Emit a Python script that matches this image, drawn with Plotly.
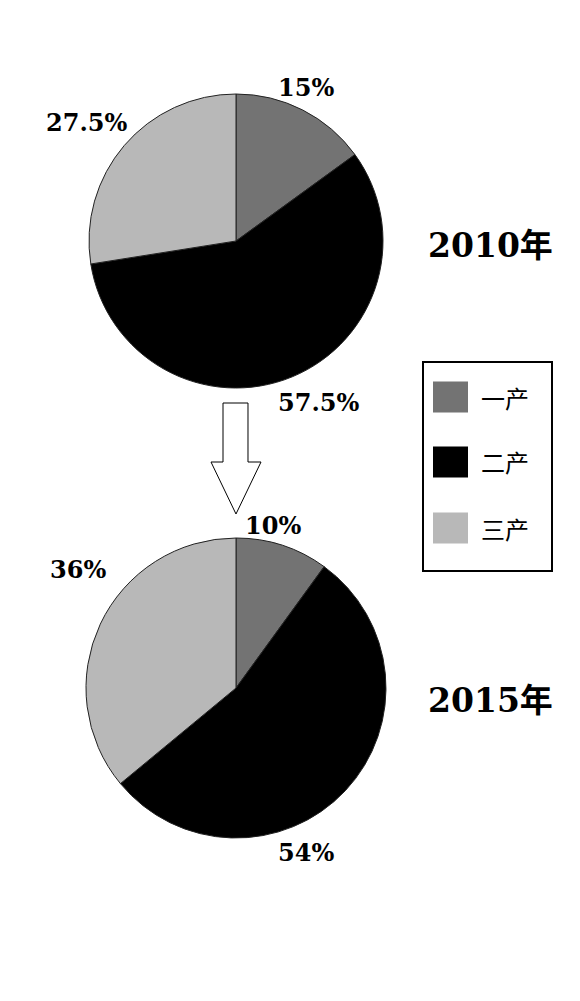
import plotly.graph_objects as go

W, H = 580, 1001
OFF = 8  # page body margin offset

categories = ["一产", "二产", "三产"]
colors = ["#737373", "#000000", "#b8b8b8"]
years = ["2010年", "2015年"]
values_2010 = [15, 57.5, 27.5]
values_2015 = [10, 54, 36]


def px(x):
    return (x - OFF) / W


def py(y):
    return 1 - (y - OFF) / H


fig = go.Figure()

# pie geometry (center x, center y, radius) in pixels
pies = [
    (values_2010, (236, 241, 147)),
    (values_2015, (236, 688, 150)),
]
for vals, (cx, cy, r) in pies:
    fig.add_trace(go.Pie(
        labels=categories,
        values=vals,
        sort=False,
        direction="clockwise",
        rotation=0,
        marker=dict(colors=colors, line=dict(color="#222222", width=1)),
        textinfo="none",
        hoverinfo="skip",
        showlegend=False,
        domain=dict(x=[px(cx - r), px(cx + r)], y=[py(cy + r), py(cy - r)]),
    ))

lab_font = dict(family="DejaVu Serif, Liberation Serif, serif", size=24, color="#000000", weight="bold")

# value labels
label_pos_2010 = [(306, 88), (318, 402), (86, 122)]
label_pos_2015 = [(273, 525), (306, 852), (78, 569)]
for vals, poss in [(values_2010, label_pos_2010), (values_2015, label_pos_2015)]:
    for v, (x, y) in zip(vals, poss):
        fig.add_annotation(x=px(x), y=py(y), xref="paper", yref="paper",
                           text=f"{v:g}%", showarrow=False, font=lab_font,
                           xanchor="center", yanchor="middle")

# year labels
year_font = dict(family="DejaVu Serif, Noto Sans CJK SC, serif", size=33, color="#000000", weight="bold")
for yr, yy in zip(years, [246, 700]):
    fig.add_annotation(x=px(426), y=py(yy), xref="paper", yref="paper",
                       text=yr, showarrow=False, font=year_font,
                       xanchor="left", yanchor="middle")

shapes = []
# arrow between pies
arrow_pts = [(223, 403), (248, 403), (248, 462), (261, 462), (236, 514),
             (211, 462), (223, 462)]
path = "M " + " L ".join(f"{px(x):.5f},{py(y):.5f}" for x, y in arrow_pts) + " Z"
shapes.append(dict(type="path", path=path, xref="paper", yref="paper",
                   line=dict(color="#000000", width=1), fillcolor="#ffffff"))

# legend box
shapes.append(dict(type="rect", xref="paper", yref="paper",
                   x0=px(423), x1=px(552), y0=py(571), y1=py(362),
                   line=dict(color="#000000", width=2), fillcolor="rgba(0,0,0,0)"))
leg_y = [397, 462, 528]
for cat, col, yc in zip(categories, colors, leg_y):
    shapes.append(dict(type="rect", xref="paper", yref="paper",
                       x0=px(433), x1=px(468), y0=py(yc + 15.5), y1=py(yc - 15.5),
                       line=dict(width=0), fillcolor=col))
    fig.add_annotation(x=px(479), y=py(yc), xref="paper", yref="paper",
                       text=cat, showarrow=False,
                       font=dict(family="Noto Sans CJK SC", size=24, color="#000000"),
                       xanchor="left", yanchor="middle")

fig.update_layout(
    width=W, height=H,
    margin=dict(l=0, r=0, t=0, b=0),
    paper_bgcolor="#ffffff",
    plot_bgcolor="#ffffff",
    shapes=shapes,
    showlegend=False,
)

fig.write_html("out.html")
